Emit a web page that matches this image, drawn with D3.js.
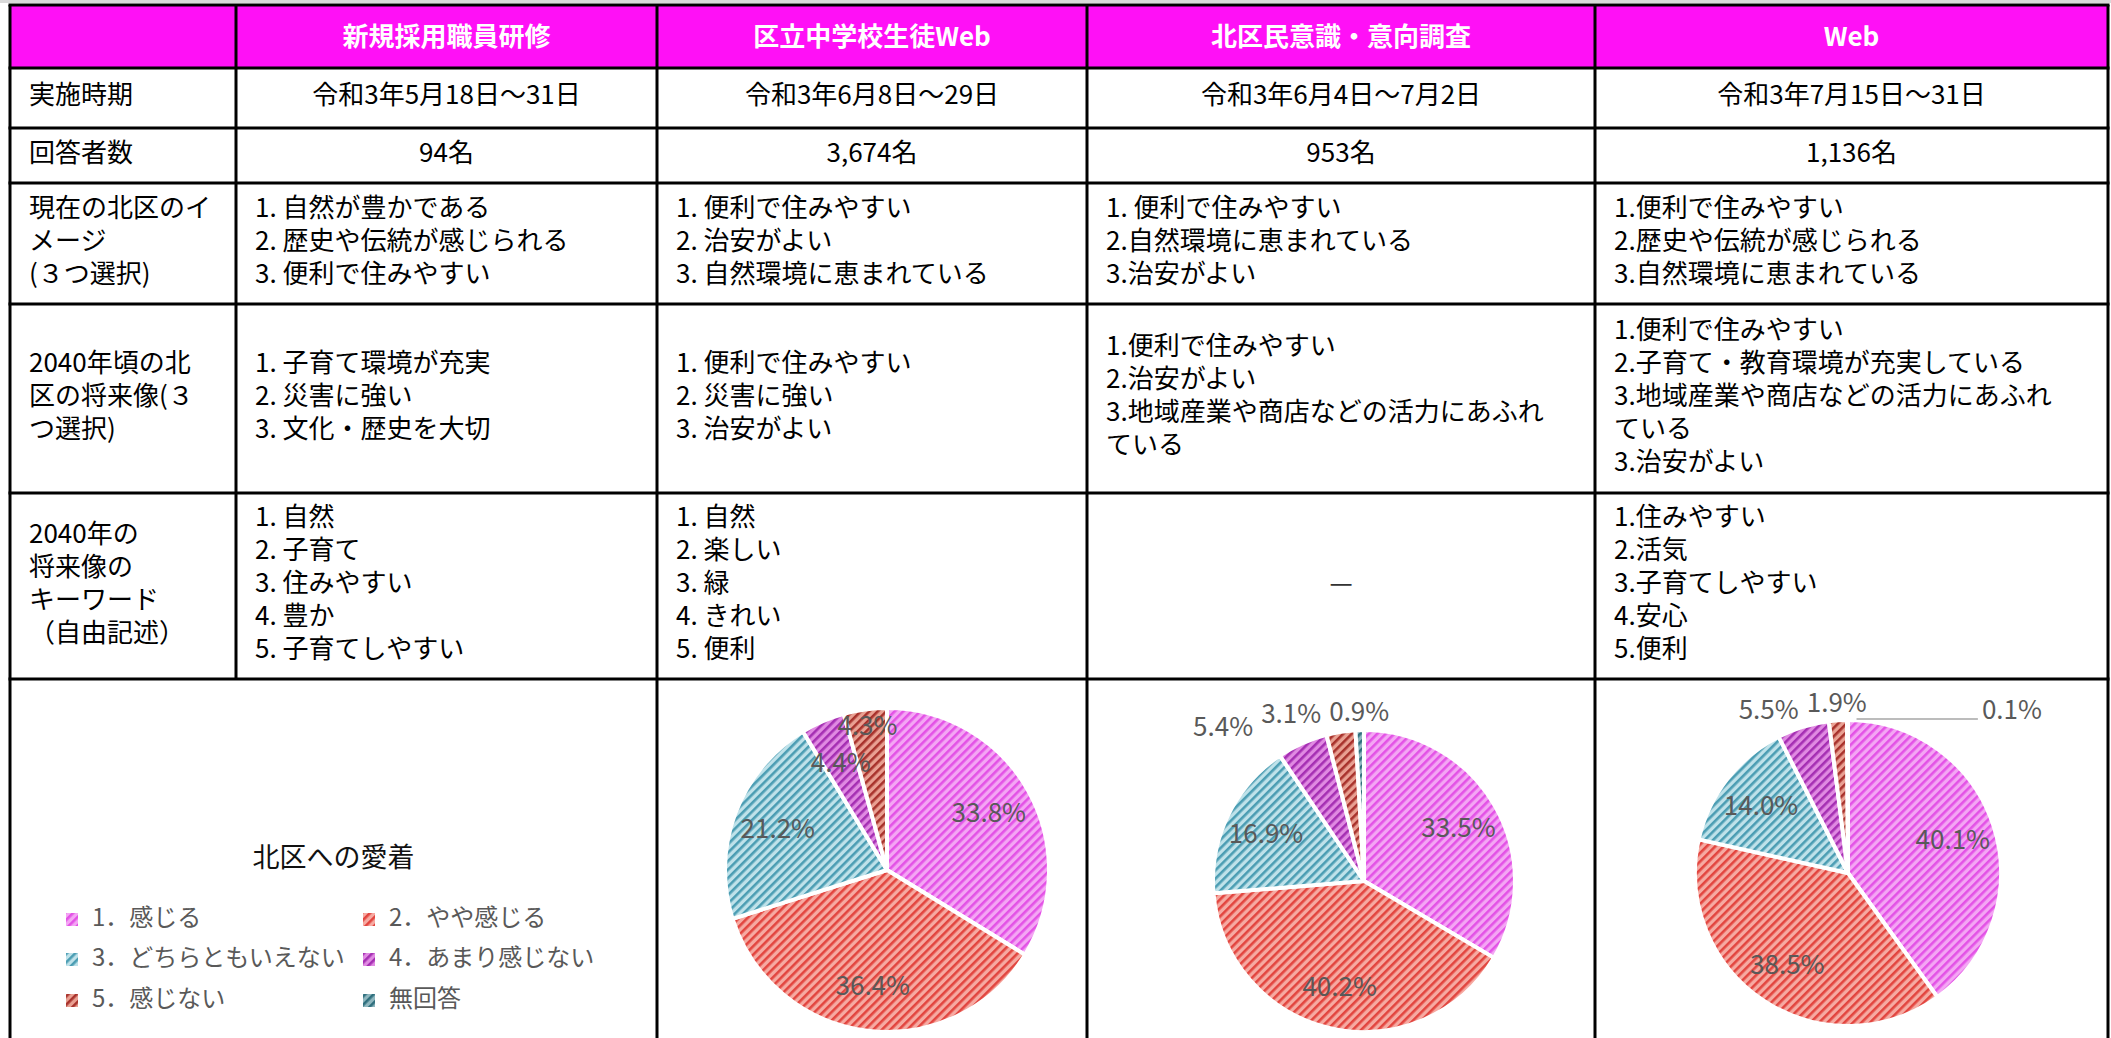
<!DOCTYPE html>
<html>
<head>
<meta charset="utf-8">
<script src="https://cdn.jsdelivr.net/npm/d3@7"></script>
<style>
  html, body { margin: 0; padding: 0; background: #fff; overflow: hidden; }
  svg { display: block; font-family: "Noto Sans CJK JP", "Noto Sans", sans-serif; }
</style>
</head>
<body>
<svg id="chart" width="2111" height="1038"></svg>
<script>
// ---- data ----
const surveys = ['新規採用職員研修', '区立中学校生徒Web', '北区民意識・意向調査', 'Web'];
const periods = ['令和3年5月18日～31日', '令和3年6月8日～29日', '令和3年6月4日～7月2日', '令和3年7月15日～31日'];
const respondents = ['94名', '3,674名', '953名', '1,136名'];

const rowLabels = [
  ['実施時期'],
  ['回答者数'],
  ['現在の北区のイ', 'メージ', '(３つ選択)'],
  ['2040年頃の北', '区の将来像(３', 'つ選択)'],
  ['2040年の', '将来像の', 'キーワード', '（自由記述）']
];

const currentImage = [
  ['1. 自然が豊かである', '2. 歴史や伝統が感じられる', '3. 便利で住みやすい'],
  ['1. 便利で住みやすい', '2. 治安がよい', '3. 自然環境に恵まれている'],
  ['1. 便利で住みやすい', '2.自然環境に恵まれている', '3.治安がよい'],
  ['1.便利で住みやすい', '2.歴史や伝統が感じられる', '3.自然環境に恵まれている']
];

const futureImage = [
  ['1. 子育て環境が充実', '2. 災害に強い', '3. 文化・歴史を大切'],
  ['1. 便利で住みやすい', '2. 災害に強い', '3. 治安がよい'],
  ['1.便利で住みやすい', '2.治安がよい', '3.地域産業や商店などの活力にあふれ', 'ている'],
  ['1.便利で住みやすい', '2.子育て・教育環境が充実している', '3.地域産業や商店などの活力にあふれ', 'ている', '3.治安がよい']
];

const keywords = [
  ['1. 自然', '2. 子育て', '3. 住みやすい', '4. 豊か', '5. 子育てしやすい'],
  ['1. 自然', '2. 楽しい', '3. 緑', '4. きれい', '5. 便利'],
  null,
  ['1.住みやすい', '2.活気', '3.子育てしやすい', '4.安心', '5.便利']
];

const attachmentTitle = '北区への愛着';
const attachmentCategories = ['1．感じる', '2．やや感じる', '3．どちらともいえない', '4．あまり感じない', '5．感じない', '無回答'];
const attachmentStudents = [33.8, 36.4, 21.2, 4.4, 4.3, 0];
const attachmentResidents = [33.5, 40.2, 16.9, 5.4, 3.1, 0.9];
const attachmentWeb = [40.1, 38.5, 14.0, 5.5, 1.9, 0.1];

// ---- layout ----
const colX = [10, 236, 657, 1087, 1595, 2108];
const rowY = [5, 68, 128, 183, 304, 493, 679, 1045];
const lineH = 33;
const fontSize = 26;

const hatchBase = ['#f4a6f4', '#f6aaa2', '#bfe2ea', '#e08ae2', '#e9a092', '#8fb7bf'];
const hatchLine = ['#e352e6', '#e2453f', '#4b9db3', '#a52fb3', '#a8322c', '#2f6f7d'];

const pies = [
  { values: attachmentStudents, cx: 887, cy: 870, r: 162, outside: false },
  { values: attachmentResidents, cx: 1364, cy: 881, r: 151, outside: true },
  { values: attachmentWeb, cx: 1848, cy: 873, r: 153, outside: true }
];

const svg = d3.select('#chart');

// hatch patterns (wide upward diagonal)
const defs = svg.append('defs');
hatchBase.forEach((c, i) => {
  const p = defs.append('pattern')
    .attr('id', `hatch-${i}`)
    .attr('patternUnits', 'userSpaceOnUse')
    .attr('width', 6)
    .attr('height', 6)
    .attr('patternTransform', 'rotate(45)');
  p.append('rect').attr('width', 6).attr('height', 6).attr('fill', c);
  p.append('rect').attr('width', 2.6).attr('height', 6).attr('fill', hatchLine[i]);
});

// thin gray strip above the table
svg.append('rect').attr('x', 0).attr('y', 0).attr('width', 2111).attr('height', 3).attr('fill', '#d9d9d9');

// header background
svg.append('rect')
  .attr('x', colX[0]).attr('y', rowY[0])
  .attr('width', colX[5] - colX[0]).attr('height', rowY[1] - rowY[0])
  .attr('fill', '#ff10f6');

function cellText(lines, x, yMid, anchor, opts = {}) {
  const n = lines.length;
  lines.forEach((t, i) => {
    svg.append('text')
      .attr('x', x)
      .attr('y', yMid + (i - (n - 1) / 2) * lineH)
      .attr('dy', '0.36em')
      .attr('text-anchor', anchor)
      .style('font-size', (opts.size || fontSize) + 'px')
      .style('font-weight', opts.weight || 400)
      .style('fill', opts.fill || '#000')
      .text(t);
  });
}

const colMid = i => (colX[i] + colX[i + 1]) / 2;
const rowMid = j => (rowY[j] + rowY[j + 1]) / 2 - 3;
const padX = 19;

// header
surveys.forEach((s, i) => cellText([s], colMid(i + 1), rowMid(0) + 3, 'middle', { weight: 700, fill: '#fff' }));

// row labels
rowLabels.forEach((lines, j) => cellText(lines, colX[0] + padX, rowMid(j + 1), 'start'));

// body rows
periods.forEach((s, i) => cellText([s], colMid(i + 1), rowMid(1), 'middle'));
respondents.forEach((s, i) => cellText([s], colMid(i + 1), rowMid(2), 'middle'));
currentImage.forEach((lines, i) => cellText(lines, colX[i + 1] + padX, rowMid(3), 'start'));
futureImage.forEach((lines, i) => cellText(lines, colX[i + 1] + padX, rowMid(4), 'start'));
keywords.forEach((lines, i) => {
  if (lines) cellText(lines, colX[i + 1] + padX, rowMid(5), 'start');
  else cellText(['—'], colMid(i + 1), rowMid(5), 'middle', { fill: '#333' });
});

// legend (merged first two columns of last row)
svg.append('text')
  .attr('x', (colX[0] + colX[2]) / 2)
  .attr('y', 857)
  .attr('dy', '0.36em')
  .attr('text-anchor', 'middle')
  .style('font-size', '27px')
  .style('fill', '#111')
  .text(attachmentTitle);

const legendCols = [66, 363];
const legendRows = [917, 957, 998];
attachmentCategories.forEach((c, i) => {
  const x = legendCols[i % 2];
  const y = legendRows[Math.floor(i / 2)];
  svg.append('rect')
    .attr('x', x).attr('y', y - 4)
    .attr('width', 12).attr('height', 13)
    .attr('fill', `url(#hatch-${i})`);
  svg.append('text')
    .attr('x', x + 26)
    .attr('y', y)
    .attr('dy', '0.36em')
    .style('font-size', '24px')
    .style('fill', '#595959')
    .text(c);
});

// pies
const pieGen = d3.pie().sort(null).value(d => d);
const fmt = v => d3.format('.1f')(v) + '%';
const labelH = 36;

pies.forEach(p => {
  const g = svg.append('g').attr('transform', `translate(${p.cx},${p.cy})`);
  const arcs = pieGen(p.values);
  const arc = d3.arc().innerRadius(0).outerRadius(p.r);

  g.selectAll('path.slice')
    .data(arcs)
    .join('path')
    .attr('class', 'slice')
    .attr('d', arc)
    .attr('fill', (d, i) => `url(#hatch-${i})`)
    .attr('stroke', '#fff')
    .attr('stroke-width', 4)
    .attr('stroke-linejoin', 'round');

  const labels = arcs.filter(a => a.data > 0).map(a => {
    const mid = (a.startAngle + a.endAngle) / 2;
    const out = p.outside && a.data < 6;
    const tiny = out && a.data < 0.5;
    return { a, mid, out, tiny, k: 0.72 };
  });

  labels.forEach(l => {
    l.el = g.append('text')
      .attr('dy', '0.36em')
      .attr('text-anchor', l.tiny ? 'start' : 'middle')
      .style('font-size', '26px')
      .style('fill', '#595959')
      .text(fmt(l.a.data));
    l.w = l.el.node().getComputedTextLength();
  });

  const polar = (k, ang) => [k * p.r * Math.sin(ang), -k * p.r * Math.cos(ang)];
  const overlaps = (l, m) => Math.abs(l.x - m.x) < (l.w + m.w) / 2 + 2 && Math.abs(l.y - m.y) < labelH;

  // inside labels: push a label outwards along its radius while it hits the previous one
  let prev = null;
  labels.filter(l => !l.out).forEach(l => {
    [l.x, l.y] = polar(l.k, l.mid);
    while (prev && overlaps(l, prev) && l.k < 1.1) {
      l.k += 0.02;
      [l.x, l.y] = polar(l.k, l.mid);
    }
    prev = l;
  });

  // outside labels: set just beyond the rim, pushed left so they do not overlap
  labels.filter(l => l.out && !l.tiny).forEach(l => {
    [l.x, l.y] = polar(1 + 18 / p.r, l.mid);
  });
  let limit = Infinity;
  labels.filter(l => l.out && !l.tiny).reverse().forEach(l => {
    if (l.x + l.w / 2 > limit) l.x = limit - l.w / 2;
    limit = l.x - l.w / 2 - 8;
  });

  labels.forEach(l => {
    if (l.tiny) {
      // very thin slice: label to the right with a leader line
      l.x = p.r * 0.875;
      l.y = -p.r - 10;
      g.append('line')
        .attr('x1', p.r * Math.sin(l.mid) + 9)
        .attr('x2', l.x - 4)
        .attr('y1', -p.r - 1)
        .attr('y2', -p.r - 1)
        .attr('stroke', '#a6a6a6')
        .attr('stroke-width', 1.5);
    }
    l.el.attr('x', l.x).attr('y', l.y);
  });
});

// grid lines
const grid = svg.append('g').attr('stroke', '#000').attr('stroke-width', 3);
rowY.slice(0, 7).forEach(y => {
  grid.append('line').attr('x1', colX[0] - 1.5).attr('x2', colX[5] + 1.5).attr('y1', y).attr('y2', y);
});
colX.forEach((x, i) => {
  const yEnd = i === 1 ? rowY[6] : rowY[7];
  grid.append('line').attr('x1', x).attr('x2', x).attr('y1', rowY[0]).attr('y2', yEnd);
});
</script>
</body>
</html>
